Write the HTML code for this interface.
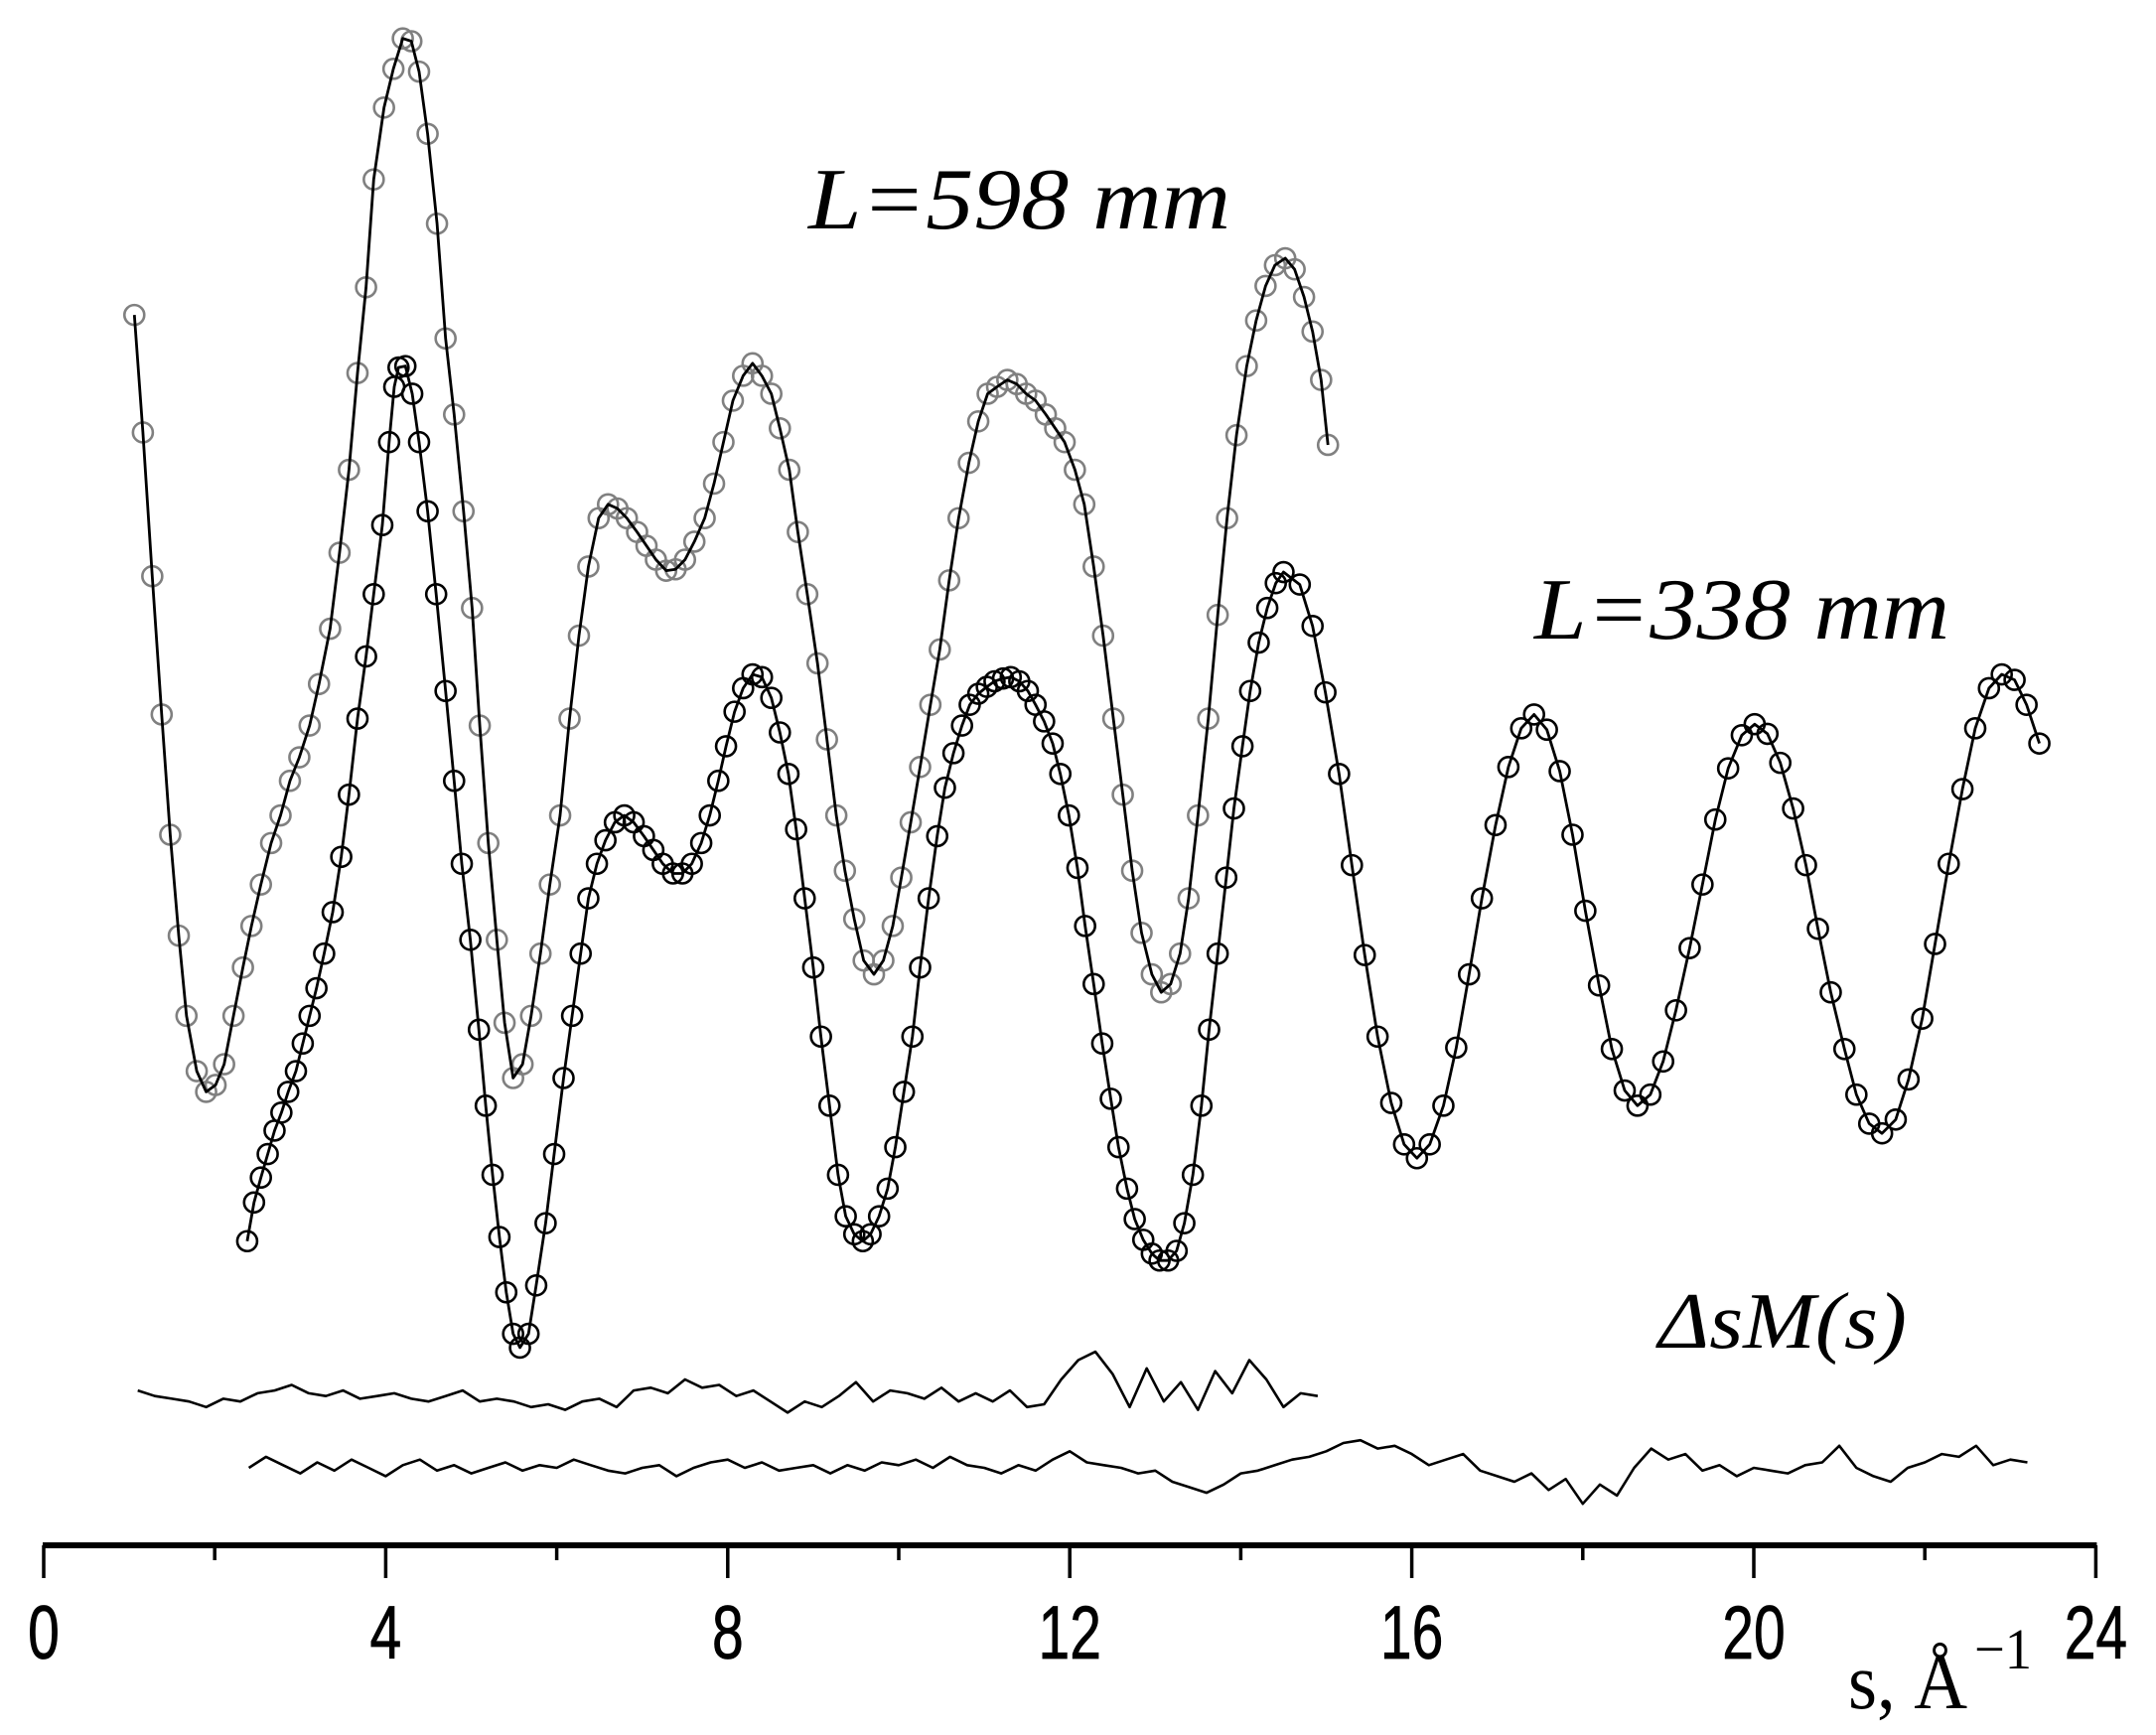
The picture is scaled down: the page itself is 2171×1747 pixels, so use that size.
<!DOCTYPE html>
<html><head><meta charset="utf-8"><style>
html,body{margin:0;padding:0;background:#fff;}
svg{display:block;}
</style></head><body>
<svg id="chart" width="2171" height="1747" viewBox="0 0 2171 1747" xmlns="http://www.w3.org/2000/svg">
<g id="axis"></g>
<g id="series"></g>
<text x="814" y="230" font-family="Liberation Serif, serif" font-style="italic" font-size="88" textLength="425" lengthAdjust="spacingAndGlyphs">L=598 mm</text>
<text x="1545" y="643" font-family="Liberation Serif, serif" font-style="italic" font-size="88" textLength="418" lengthAdjust="spacingAndGlyphs">L=338 mm</text>
<text x="1670" y="1357" font-family="Liberation Serif, serif" font-style="italic" font-size="80" textLength="250" lengthAdjust="spacingAndGlyphs">ΔsM(s)</text>
<g>
<text x="1861" y="1720" font-family="Liberation Serif, serif" font-size="80" textLength="120" lengthAdjust="spacingAndGlyphs">s, Å</text>
<text x="1988" y="1680" font-family="Liberation Serif, serif" font-size="58" textLength="58" lengthAdjust="spacingAndGlyphs">−1</text>
</g>
</svg>
<script>
// L=598 mm series
const s598 = [1.06,1.16,1.27,1.38,1.48,1.58,1.67,1.79,1.90,2.01,2.11,2.22,2.33,2.43,2.54,2.66,2.77,2.88,2.99,3.11,3.22,3.35,3.46,3.57,3.67,3.77,3.86,3.98,4.09,4.20,4.30,4.39,4.49,4.60,4.70,4.80,4.91,5.01,5.10,5.20,5.30,5.39,5.49,5.60,5.70,5.81,5.92,6.04,6.15,6.26,6.37,6.49,6.60,6.71,6.82,6.94,7.05,7.16,7.28,7.39,7.50,7.61,7.73,7.84,7.95,8.06,8.18,8.29,8.40,8.51,8.61,8.72,8.82,8.93,9.05,9.16,9.27,9.37,9.48,9.59,9.71,9.82,9.93,10.03,10.14,10.25,10.37,10.48,10.59,10.70,10.82,10.93,11.04,11.15,11.27,11.38,11.49,11.60,11.72,11.83,11.94,12.06,12.17,12.28,12.39,12.51,12.62,12.73,12.84,12.96,13.07,13.18,13.29,13.39,13.50,13.62,13.73,13.84,13.95,14.07,14.18,14.29,14.40,14.52,14.63,14.74,14.84,14.94,15.02];
const v598 = [890,805,701,601,514,441,383,343,328,333,348,383,418,448,478,508,528,553,570,593,623,663,718,778,848,910,988,1040,1068,1090,1088,1066,1021,956,873,818,748,678,593,508,438,378,338,348,383,428,478,528,598,658,708,743,753,750,743,733,723,713,705,706,713,726,743,768,798,828,846,855,846,833,808,778,733,688,638,583,528,488,453,423,413,423,448,483,523,563,608,648,698,743,783,813,833,838,843,840,833,828,818,808,798,778,753,708,658,598,543,488,443,413,400,406,428,468,528,598,673,743,803,853,886,911,926,931,923,903,878,843,796];
// L=338 mm series
const s338 = [2.38,2.46,2.54,2.62,2.70,2.78,2.86,2.95,3.03,3.11,3.19,3.28,3.38,3.48,3.57,3.67,3.77,3.86,3.96,4.04,4.10,4.15,4.23,4.31,4.39,4.49,4.59,4.70,4.80,4.89,4.99,5.09,5.17,5.25,5.33,5.41,5.49,5.57,5.67,5.76,5.87,5.97,6.08,6.18,6.28,6.37,6.47,6.57,6.68,6.79,6.90,7.02,7.13,7.24,7.36,7.47,7.58,7.69,7.79,7.89,7.98,8.08,8.18,8.29,8.40,8.51,8.61,8.71,8.80,8.90,9.00,9.09,9.19,9.29,9.38,9.48,9.58,9.67,9.77,9.87,9.96,10.06,10.16,10.25,10.35,10.45,10.54,10.64,10.74,10.83,10.93,11.03,11.12,11.22,11.31,11.41,11.51,11.60,11.70,11.80,11.89,11.99,12.09,12.18,12.28,12.38,12.48,12.57,12.67,12.76,12.86,12.96,13.05,13.15,13.25,13.34,13.44,13.54,13.63,13.73,13.83,13.92,14.02,14.11,14.21,14.31,14.41,14.50,14.69,14.84,14.99,15.15,15.30,15.45,15.60,15.76,15.91,16.06,16.21,16.37,16.52,16.67,16.82,16.98,17.13,17.28,17.43,17.58,17.73,17.88,18.03,18.19,18.34,18.49,18.64,18.79,18.94,19.09,19.25,19.40,19.55,19.70,19.86,20.01,20.16,20.31,20.46,20.61,20.75,20.90,21.06,21.20,21.35,21.50,21.66,21.81,21.97,22.12,22.28,22.44,22.59,22.75,22.90,23.05,23.19,23.34];
const v338 = [220,248,266,283,300,313,328,343,363,383,403,428,458,498,543,598,643,688,738,798,838,852,853,833,798,748,688,618,553,493,438,373,318,268,223,183,153,143,153,188,233,283,338,383,428,468,493,510,523,528,523,513,503,493,486,486,493,508,528,553,578,603,620,630,628,613,588,558,518,468,418,368,318,268,238,225,220,225,238,258,288,328,368,418,468,513,548,573,593,608,616,621,625,627,628,625,618,608,596,580,558,528,490,448,406,363,323,288,258,236,221,211,206,206,213,233,268,318,373,428,483,533,578,618,653,678,696,704,695,665,617,558,492,427,368,320,290,280,290,318,360,413,468,521,563,591,601,590,560,514,459,405,359,329,318,326,350,387,432,478,525,562,586,594,587,566,533,492,446,400,359,326,305,298,308,337,381,435,493,547,591,620,630,626,608,580];
// residuals ΔsM(s)
const res1Start = 1.1, res1Step = 0.2;
const res1 = [112,108,106,104,100,106,104,110,112,116,110,108,112,106,108,110,106,104,108,112,104,106,104,100,102,98,104,106,100,112,114,110,120,114,116,108,112,104,96,104,100,108,118,104,112,110,106,114,104,110,104,112,100,102,120,134,140,124,100,128,104,118,98,126,110,134,120,100,110,108];
const res2Start = 2.4, res2Step = 0.2;
const res2 = [56,64,58,52,60,54,62,56,50,58,62,54,58,52,56,60,54,58,56,62,58,54,52,56,58,50,56,60,62,56,60,54,56,58,52,58,54,60,58,62,56,64,58,56,52,58,54,62,68,60,58,56,52,54,46,42,38,44,52,54,58,62,64,68,74,76,70,72,66,58,62,66,54,50,46,52,40,48,30,44,36,56,70,62,66,54,58,50,56,54,52,58,60,72,56,50,46,56,60,66,64,72,58,62,60];
// axis ticks
const majorTicks = [0,4,8,12,16,20,24];
const minorTicks = [2,6,10,14,18,22];

const NS = 'http://www.w3.org/2000/svg';
const X = s => 44 + s * 86.1;
const Y = v => 1556 - v * 1.392;
function mk(tag, attrs, parent){
  const e = document.createElementNS(NS, tag);
  for (const k in attrs) e.setAttribute(k, attrs[k]);
  parent.appendChild(e); return e;
}
const axis = document.getElementById('axis');
const series = document.getElementById('series');

const axLine = mk('line',{x1:X(0)-1,x2:X(24)+1,y1:1556,y2:1556,stroke:'#000','stroke-width':6},axis);


majorTicks.forEach(t=>{
  const l = mk('line',{x1:X(t),x2:X(t),y1:1556,y2:1589,stroke:'#000','stroke-width':3.5},axis);
  
  
  const tx = mk('text',{x:X(t),y:1670,'font-family':'Liberation Sans, sans-serif','font-size':76,'text-anchor':'middle',stroke:'#000','stroke-width':0.8,transform:`translate(${X(t)},0) scale(0.75,1) translate(${-X(t)},0)`},axis);
  tx.textContent = String(t);
  
  
});
minorTicks.forEach(t=>{
  const l = mk('line',{x1:X(t),x2:X(t),y1:1556,y2:1571,stroke:'#000','stroke-width':3.5},axis);
  
  
});

function pathFrom(xs, ys){
  let d = '';
  for (let i=0;i<xs.length;i++){ d += (i?'L':'M') + X(xs[i]).toFixed(1) + ' ' + Y(ys[i]).toFixed(1) + ' '; }
  return d;
}
function drawSeries(sArr, vArr, color, name){
  const g = mk('g',{},series);
  
  
  sArr.forEach((s,i)=>{
    const c = mk('circle',{cx:X(s),cy:Y(vArr[i]),r:10,fill:'none',stroke:color,'stroke-width':2.6},g);
    
    
  });
  const p = mk('path',{d:pathFrom(sArr,vArr),fill:'none',stroke:'#000','stroke-width':2.8,'stroke-linejoin':'round'},g);
  
  
}
drawSeries(s598, v598, '#808080', 'series-598mm');
drawSeries(s338, v338, '#000', 'series-338mm');

function drawRes(start, step, vals, name){
  const xs = vals.map((v,i)=>start + i*step);
  const p = mk('path',{d:pathFrom(xs, vals),fill:'none',stroke:'#000','stroke-width':2.6,'stroke-linejoin':'round'},series);
  
  
}
drawRes(res1Start, res1Step, res1, 'residual-598mm');
drawRes(res2Start, res2Step, res2, 'residual-338mm');
</script>
</body></html>
